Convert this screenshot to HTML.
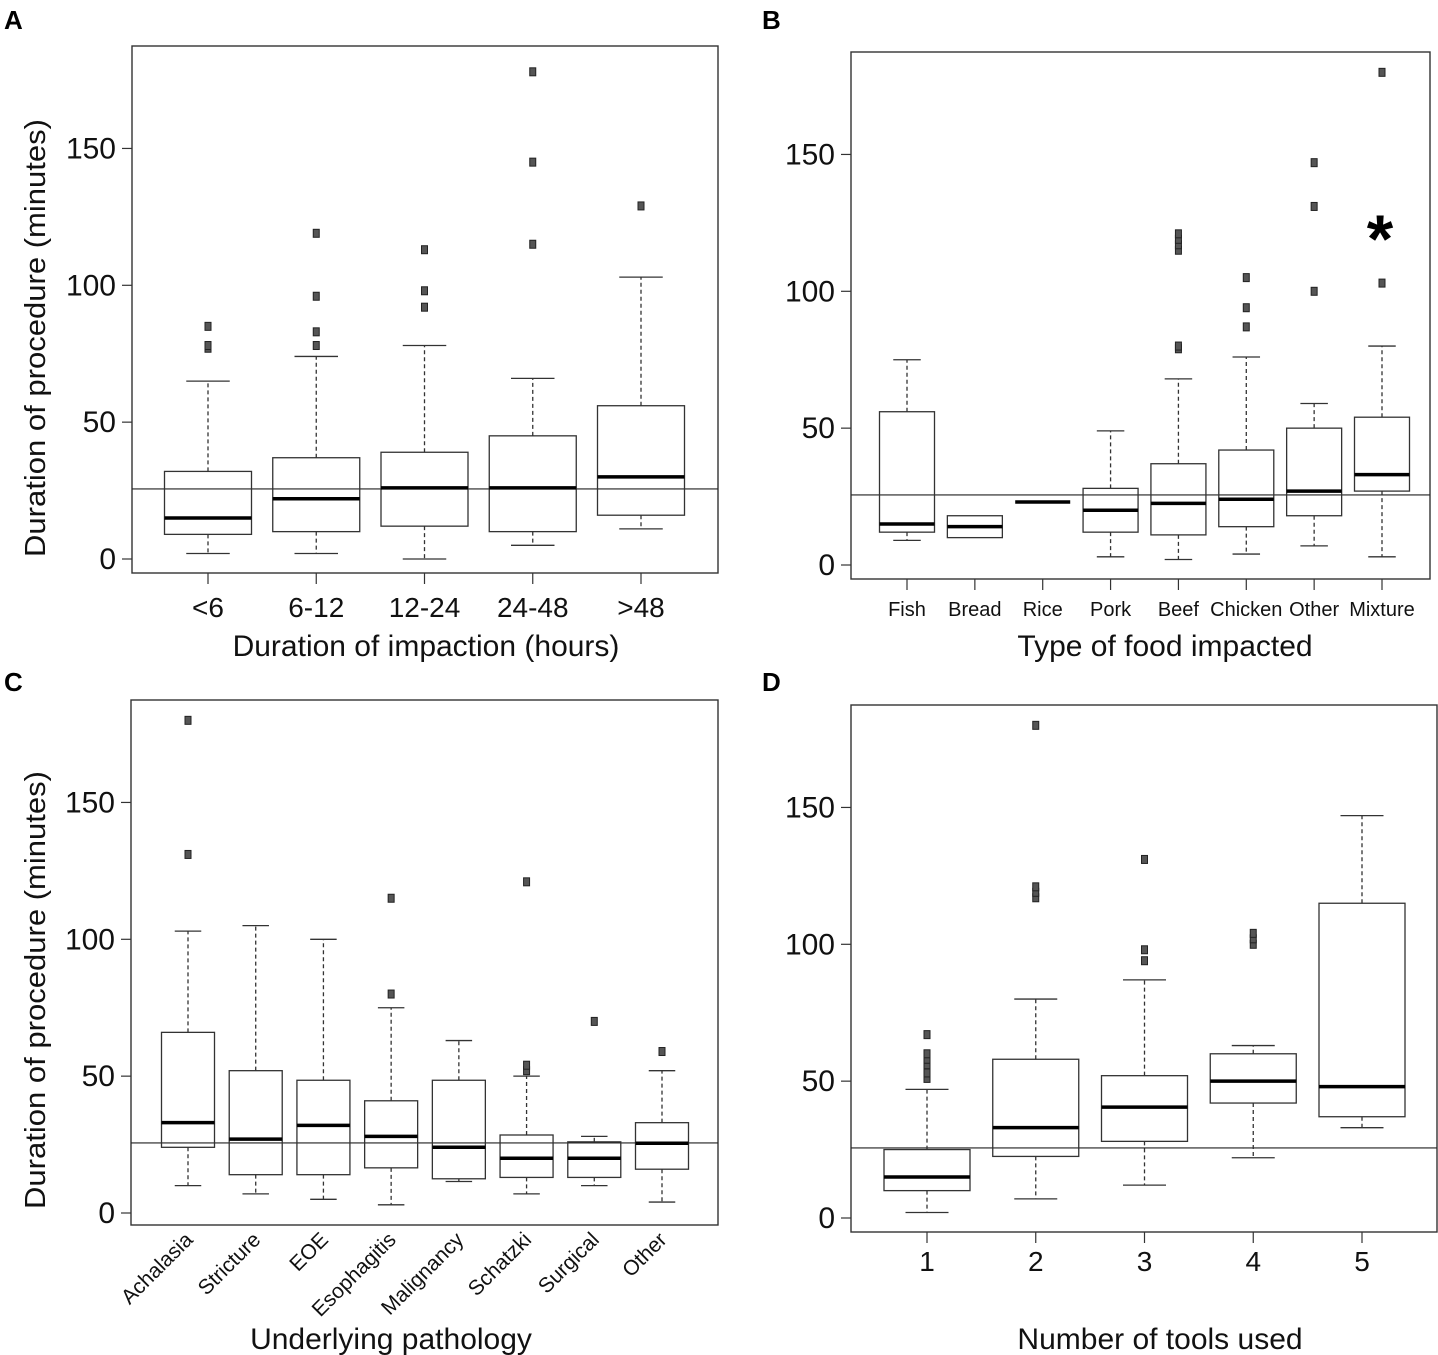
<!DOCTYPE html>
<html><head><meta charset="utf-8"><style>
html,body{margin:0;padding:0;background:#fff;}
svg{display:block;font-family:"Liberation Sans",Arial,sans-serif;}
</style></head><body>
<svg id="fig" width="1438" height="1355" viewBox="0 0 1438 1355" xmlns="http://www.w3.org/2000/svg">
<text x="4" y="29" font-size="26" font-weight="bold">A</text>
<text x="762" y="29" font-size="26" font-weight="bold">B</text>
<text x="4" y="691" font-size="26" font-weight="bold">C</text>
<text x="762" y="691" font-size="26" font-weight="bold">D</text>
<text x="1380" y="262" font-size="68" font-weight="bold" text-anchor="middle">*</text>
</svg>
<script>
// Panel A
const aCats=["<6","6-12","12-24","24-48",">48"];
const aLow=[2,2,0,5,11];
const aQ1=[9,10,12,10,16];
const aMed=[15,22,26,26,30];
const aQ3=[32,37,39,45,56];
const aHigh=[65,74,78,66,103];
const aOut=[[77,78,85],[78,83,96,119],[92,98,113],[115,145,178],[129]];
// Panel B
const bCats=["Fish","Bread","Rice","Pork","Beef","Chicken","Other","Mixture"];
const bLow=[9,10,23,3,2,4,7,3];
const bQ1=[12,10,23,12,11,14,18,27];
const bMed=[15,14,23,20,22.5,24,27,33];
const bQ3=[56,18,23,28,37,42,50,54];
const bHigh=[75,18,23,49,68,76,59,80];
const bOut=[[],[],[],[],[79,80,115,117,119,121],[87,94,105],[100,131,147],[103,180]];
// Panel C
const cCats=["Achalasia","Stricture","EOE","Esophagitis","Malignancy","Schatzki","Surgical","Other"];
const cLow=[10,7,5,3,11.5,7,10,4];
const cQ1=[24,14,14,16.5,12.5,13,13,16];
const cMed=[33,27,32,28,24,20,20,25.5];
const cQ3=[66,52,48.5,41,48.5,28.5,26,33];
const cHigh=[103,105,100,75,63,50,28,52];
const cOut=[[131,180],[],[],[80,115],[],[52,54,121],[70],[59]];
// Panel D
const dCats=["1","2","3","4","5"];
const dLow=[2,7,12,22,33];
const dQ1=[10,22.5,28,42,37];
const dMed=[15,33,40.5,50,48];
const dQ3=[25,58,52,60,115];
const dHigh=[47,80,87,63,147];
const dOut=[[51,53,56,58,60,67],[117,119,121,180],[94,98,131],[100,102,104],[]];
const yTicks=[0,50,100,150];
const refValue=25.6;

const NS="http://www.w3.org/2000/svg";
const svg=document.getElementById('fig');
function mk(tag,attrs,parent){const e=document.createElementNS(NS,tag);for(const k in attrs)e.setAttribute(k,attrs[k]);(parent||svg).appendChild(e);return e;}

function panel(p){
  const g=mk('g',{});
  
  
  const y=v=>p.y0-v*2.737;
  const n=p.cats.length;
  const x=i=>p.xs[0]+i*(p.xs[1]-p.xs[0])/(n-1);
  const fr=mk('rect',{x:p.L,y:p.T,width:p.R-p.L,height:p.B-p.T,fill:'none',stroke:'#333','stroke-width':1.4},g);
  
  
  yTicks.forEach(t=>{
    const l=mk('line',{x1:p.L-10,x2:p.L,y1:y(t),y2:y(t),stroke:'#333','stroke-width':1.2},g);
    
    
    const tx=mk('text',{x:p.L-16,y:y(t)+10,'font-size':30,'text-anchor':'end',fill:'#111'},g);
    tx.textContent=t;
    
    
  });
  const ref=mk('line',{x1:p.L,x2:p.R,y1:y(refValue),y2:y(refValue),stroke:'#222','stroke-width':1.2},g);
  
  
  const hw=p.bw/2, cw=p.bw/4;
  p.cats.forEach((c,i)=>{
    const cx=x(i);
    const bg=mk('g',{},g);
    
    
    const st={stroke:'#333','stroke-width':1.3};
    if(p.hi[i]>p.q3[i]){
      mk('line',Object.assign({x1:cx,x2:cx,y1:y(p.q3[i]),y2:y(p.hi[i]),'stroke-dasharray':'4,3'},st),bg);
      mk('line',Object.assign({x1:cx-cw,x2:cx+cw,y1:y(p.hi[i]),y2:y(p.hi[i])},st),bg);
    }
    if(p.lo[i]<p.q1[i]){
      mk('line',Object.assign({x1:cx,x2:cx,y1:y(p.q1[i]),y2:y(p.lo[i]),'stroke-dasharray':'4,3'},st),bg);
      mk('line',Object.assign({x1:cx-cw,x2:cx+cw,y1:y(p.lo[i]),y2:y(p.lo[i])},st),bg);
    }
    if(p.q3[i]>p.q1[i]) mk('rect',Object.assign({x:cx-hw,y:y(p.q3[i]),width:p.bw,height:y(p.q1[i])-y(p.q3[i]),fill:'none'},st),bg);
    mk('line',{x1:cx-hw,x2:cx+hw,y1:y(p.med[i]),y2:y(p.med[i]),stroke:'#000','stroke-width':3.5},bg);
    p.out[i].forEach(v=>{
      const o=mk('rect',{x:cx-3,y:y(v)-4,width:6,height:8,fill:'#555',stroke:'#222','stroke-width':1},bg);
      
      
    });
    if(p.tick){
      mk('line',{x1:cx,x2:cx,y1:p.B,y2:p.B+11,stroke:'#333','stroke-width':1.2},g);
    }
    const lab=mk('text',{'font-size':p.lfs,fill:'#111'},g);
    if(p.rot){
      lab.setAttribute('text-anchor','end');
      lab.setAttribute('transform','translate('+(cx+6)+','+(p.B+16)+') rotate(-45)');
    } else {
      lab.setAttribute('x',cx);lab.setAttribute('y',p.ly);lab.setAttribute('text-anchor','middle');
    }
    lab.textContent=c;
    
    
  });
  const xt=mk('text',{x:p.xtx,y:p.xty,'font-size':30,'text-anchor':'middle',fill:'#111'},g);
  xt.textContent=p.xtitle;
  
  
  if(p.ytitle){
    const yt=mk('text',{'font-size':29,'text-anchor':'middle',fill:'#111',transform:'translate(45,'+p.ytc+') rotate(-90)',textLength:438,lengthAdjust:'spacingAndGlyphs'},g);
    yt.textContent='Duration of procedure (minutes)';
    
    
  }
}
panel({name:'panel-a',cats:aCats,lo:aLow,q1:aQ1,med:aMed,q3:aQ3,hi:aHigh,out:aOut,L:132,T:46,R:718,B:573,y0:559,xs:[208,641],bw:87,tick:true,lfs:28,ly:617,xtitle:'Duration of impaction (hours)',xtx:426,xty:656,ytitle:true,ytc:338});
panel({name:'panel-b',cats:bCats,lo:bLow,q1:bQ1,med:bMed,q3:bQ3,hi:bHigh,out:bOut,L:851,T:52,R:1430,B:579,y0:565,xs:[907,1382],bw:55,tick:true,lfs:20,ly:616,xtitle:'Type of food impacted',xtx:1165,xty:656,ytitle:false});
panel({name:'panel-c',cats:cCats,lo:cLow,q1:cQ1,med:cMed,q3:cQ3,hi:cHigh,out:cOut,L:131,T:700,R:718,B:1225,y0:1213,xs:[188,662],bw:53,tick:false,rot:true,lfs:21,xtitle:'Underlying pathology',xtx:391,xty:1349,ytitle:true,ytc:990});
panel({name:'panel-d',cats:dCats,lo:dLow,q1:dQ1,med:dMed,q3:dQ3,hi:dHigh,out:dOut,L:851,T:705,R:1437,B:1232,y0:1218,xs:[927,1362],bw:86,tick:true,lfs:28,ly:1271,xtitle:'Number of tools used',xtx:1160,xty:1349,ytitle:false});
</script>
</body></html>
